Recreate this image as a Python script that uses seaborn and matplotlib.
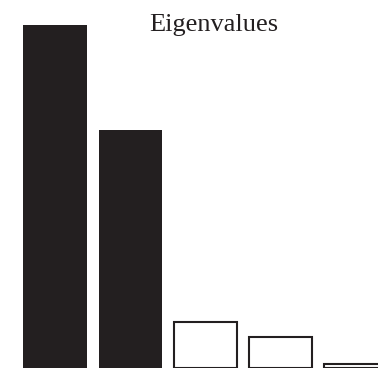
import matplotlib
matplotlib.use("Agg")
import matplotlib.pyplot as plt
import seaborn as sns
import pandas as pd

components = ["1", "2", "3", "4", "5"]
eigenvalues = [343, 238, 46, 31, 4]
filled = [True, True, False, False, False]
title = "Eigenvalues"

sns.set_theme(style="white")
plt.rcParams['font.family'] = ['Liberation Serif', 'DejaVu Serif']

df = pd.DataFrame({"component": components, "value": eigenvalues})

fig = plt.figure(figsize=(3.78, 3.68), dpi=100)
ax = fig.add_axes([0, 0, 1, 1])
sns.barplot(data=df, x="component", y="value", ax=ax, width=0.84,
            color="#231f20", saturation=1)

for patch, f in zip(ax.patches, filled):
    if f:
        patch.set_facecolor("#231f20")
        patch.set_edgecolor("#231f20")
        patch.set_linewidth(0)
    else:
        patch.set_facecolor("white")
        patch.set_edgecolor("#231f20")
        patch.set_linewidth(1.5)

ax.set_xlim(-0.731, 4.292)
ax.set_ylim(0, 368)
ax.axis("off")

fig.text(214 / 378, 1 - 31.5 / 368, title, ha="center", va="baseline",
         fontsize=19, color="#231f20")

fig.savefig("out.png", dpi=100)
